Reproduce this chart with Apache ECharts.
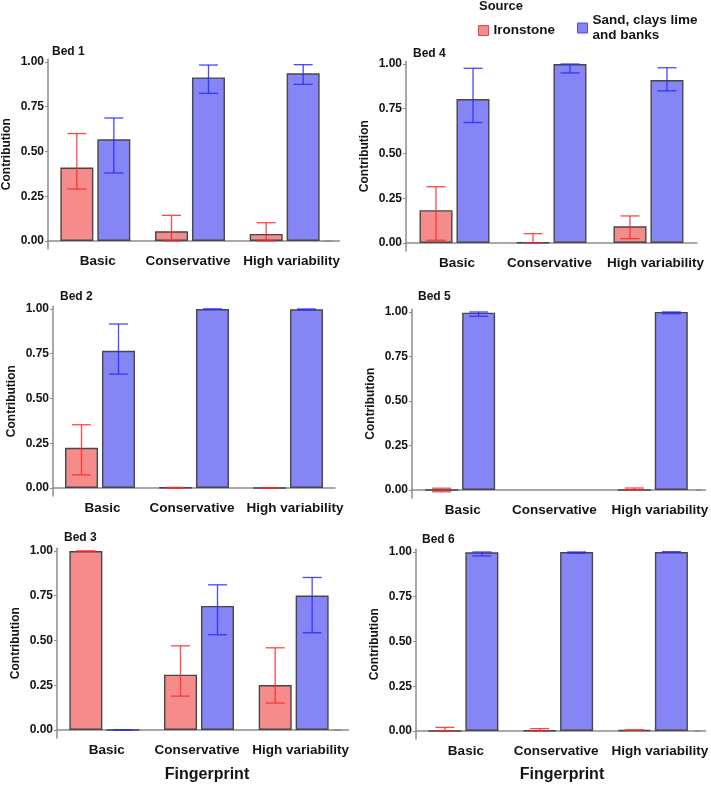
<!DOCTYPE html>
<html>
<head>
<meta charset="utf-8">
<script src="https://cdn.jsdelivr.net/npm/echarts@6/dist/echarts.min.js"></script>
<style>
  html, body { margin: 0; padding: 0; background: #ffffff; }
  #chart { width: 711px; height: 787px; }
</style>
</head>
<body>
<div id="chart"></div>
<script>
// ---------- data ----------
const categories = ['Basic', 'Conservative', 'High variability'];
const yTicks = [0, 0.25, 0.5, 0.75, 1];
const IRON = 'Ironstone';
const SAND = 'Sand, clays lime\nand banks';

const bed1Iron = [0.41, 0.054, 0.039];
const bed1IronErr = [[0.29, 0.60], [0.0, 0.143], [0.0, 0.102]];
const bed1Sand = [0.568, 0.914, 0.937];
const bed1SandErr = [[0.38, 0.687], [0.825, 0.983], [0.875, 0.985]];

const bed2Iron = [0.224, 0.002, 0.0];
const bed2IronErr = [[0.073, 0.353], [0.0, 0.003], [0.0, 0.002]];
const bed2Sand = [0.766, 1.0, 0.998];
const bed2SandErr = [[0.636, 0.916], [0.998, 1.0], [0.996, 1.0]];

const bed3Iron = [1.0, 0.309, 0.251];
const bed3IronErr = [[0.999, 1.0], [0.189, 0.47], [0.15, 0.459]];
const bed3Sand = [0.0, 0.693, 0.751];
const bed3SandErr = [[0.0, 0.001], [0.532, 0.811], [0.543, 0.852]];

const bed4Iron = [0.183, 0.002, 0.093];
const bed4IronErr = [[0.015, 0.314], [0.0, 0.052], [0.024, 0.151]];
const bed4Sand = [0.804, 1.0, 0.91];
const bed4SandErr = [[0.673, 0.976], [0.95, 1.0], [0.85, 0.979]];

const bed5Iron = [0.0, null, 0.0];
const bed5IronErr = [[-0.01, 0.01], null, [0.0, 0.011]];
const bed5Sand = [0.996, null, 1.0];
const bed5SandErr = [[0.976, 1.0], null, [0.99, 1.0]];

const bed6Iron = [0.0, 0.003, 0.005];
const bed6IronErr = [[0.0, 0.02], [0.0, 0.013], [0.005, 0.005]];
const bed6Sand = [0.998, 1.0, 1.0];
const bed6SandErr = [[0.978, 1.0], [0.993, 1.0], [1.0, 1.0]];

// ---------- layout ----------
const FONT = '"Liberation Sans", Arial, sans-serif';
const TXT = '#141414';
const AXIS = '#8c8c8c';
const ironFill = '#F68B8B', sandFill = '#8585F5';
const ironErrC = 'rgba(255,40,40,0.85)', sandErrC = 'rgba(40,40,255,0.85)';

const panels = [
  { name: 'Bed 1', iron: bed1Iron, ironErr: bed1IronErr, sand: bed1Sand, sandErr: bed1SandErr,
    left: 47, width: 285, top: 59.3, height: 189.7, ext: 8, tx: 52, ty: 46, fp: null },
  { name: 'Bed 2', iron: bed2Iron, ironErr: bed2IronErr, sand: bed2Sand, sandErr: bed2SandErr,
    left: 53, width: 282, top: 306.3, height: 189.7, ext: 0, tx: 60, ty: 291, fp: null },
  { name: 'Bed 3', iron: bed3Iron, ironErr: bed3IronErr, sand: bed3Sand, sandErr: bed3SandErr,
    left: 57, width: 284, top: 548.3, height: 189.7, ext: 8, tx: 64, ty: 532, fp: 207 },
  { name: 'Bed 4', iron: bed4Iron, ironErr: bed4IronErr, sand: bed4Sand, sandErr: bed4SandErr,
    left: 406, width: 291, top: 61.3, height: 189.7, ext: 1, tx: 413, ty: 48, fp: null },
  { name: 'Bed 5', iron: bed5Iron, ironErr: bed5IronErr, sand: bed5Sand, sandErr: bed5SandErr,
    left: 412, width: 290, top: 309.3, height: 188.7, ext: 5, tx: 418, ty: 291, fp: null },
  { name: 'Bed 6', iron: bed6Iron, ironErr: bed6IronErr, sand: bed6Sand, sandErr: bed6SandErr,
    left: 416, width: 286, top: 549.3, height: 189.7, ext: 6, tx: 422, ty: 534, fp: 562 }
];

function errRender(offset, color) {
  return function (params, api) {
    const lo = api.value(1), hi = api.value(2);
    if (isNaN(lo) || isNaN(hi)) return null;
    const pLo = api.coord([api.value(0), lo]);
    const pHi = api.coord([api.value(0), hi]);
    const cx = pLo[0] + offset;
    const hw = 9.5;
    const st = { stroke: color, lineWidth: 1.3 };
    return {
      type: 'group',
      children: [
        { type: 'line', shape: { x1: cx, y1: pHi[1], x2: cx, y2: pLo[1] }, style: st },
        { type: 'line', shape: { x1: cx - hw, y1: pHi[1], x2: cx + hw, y2: pHi[1] }, style: st },
        { type: 'line', shape: { x1: cx - hw, y1: pLo[1], x2: cx + hw, y2: pLo[1] }, style: st }
      ]
    };
  };
}

// category label styles (small horizontal nudges as in the original figure)
const catStyle = { fontSize: 13.5, fontWeight: 'bold', color: TXT, fontFamily: FONT };
const catRich = {
  c0: Object.assign({ padding: [0, 0, 0, 5] }, catStyle),
  c1: Object.assign({ padding: [0, 4, 0, 0] }, catStyle),
  c2: Object.assign({ padding: [0, 0, 0, 14] }, catStyle)
};
function catFormatter(v, idx) { return '{c' + idx + '|' + v + '}'; }

const grids = [], xAxes = [], yAxes = [], series = [], titles = [];
panels.forEach(function (p, i) {
  grids.push({ left: p.left, width: p.width, top: p.top, height: p.height, containLabel: false });
  xAxes.push({
    gridIndex: i, type: 'category', data: categories,
    axisLine: { show: true, lineStyle: { color: AXIS, width: 1.5 },
      symbol: p.ext > 1 ? ['none', 'rect'] : ['none', 'none'], symbolSize: [1.5, 2 * p.ext] },
    axisTick: { show: false },
    axisLabel: Object.assign({ interval: 0, margin: 5, formatter: catFormatter, rich: catRich }, catStyle),
    splitLine: { show: false }
  });
  yAxes.push({
    gridIndex: i, type: 'value', min: -0.045, max: 1.015,
    axisLine: { show: true, lineStyle: { color: AXIS, width: 1.5 } },
    axisTick: { show: true, length: 3, customValues: yTicks, lineStyle: { color: AXIS, width: 1 } },
    axisLabel: { customValues: yTicks, formatter: function (v) { return v.toFixed(2); },
      margin: 4, fontSize: 12, fontWeight: 'bold', color: TXT, fontFamily: FONT },
    splitLine: { show: false },
    name: 'Contribution', nameLocation: 'middle', nameRotate: 90, nameGap: 35,
    nameTextStyle: { fontSize: 12, fontWeight: 'bold', color: TXT, fontFamily: FONT }
  });
  series.push({
    type: 'bar', name: IRON, xAxisIndex: i, yAxisIndex: i, data: p.iron,
    barWidth: 33, barGap: '12%',
    itemStyle: { color: ironFill, borderColor: '#474747', borderWidth: 1.4 }
  });
  series.push({
    type: 'bar', name: SAND, xAxisIndex: i, yAxisIndex: i, data: p.sand,
    barWidth: 33, barGap: '12%',
    itemStyle: { color: sandFill, borderColor: '#474747', borderWidth: 1.4 }
  });
  series.push({
    type: 'custom', name: IRON, xAxisIndex: i, yAxisIndex: i, z: 5,
    renderItem: errRender(-18.5, ironErrC),
    data: p.ironErr.map(function (e, k) { return e ? [k, e[0], e[1]] : [k, null, null]; })
  });
  series.push({
    type: 'custom', name: SAND, xAxisIndex: i, yAxisIndex: i, z: 5,
    renderItem: errRender(18.5, sandErrC),
    data: p.sandErr.map(function (e, k) { return e ? [k, e[0], e[1]] : [k, null, null]; })
  });
  titles.push({ text: p.name, left: p.tx, top: p.ty, padding: 0,
    textStyle: { fontSize: 12, fontWeight: 'bold', color: TXT, fontFamily: FONT } });
  if (p.fp !== null) {
    titles.push({ text: 'Fingerprint', left: p.fp, top: 767, padding: 0, textAlign: 'center',
      textStyle: { fontSize: 16, fontWeight: 'bold', color: TXT, fontFamily: FONT } });
  }
});
titles.push({ text: 'Source', left: 479, top: 0, padding: 0,
  textStyle: { fontSize: 13, fontWeight: 'bold', color: TXT, fontFamily: FONT } });

const legendText = { fontSize: 13.5, fontWeight: 'bold', color: TXT, fontFamily: FONT, lineHeight: 15 };
const option = {
  animation: false,
  backgroundColor: '#ffffff',
  title: titles,
  legend: [
    { data: [{ name: IRON, itemStyle: { borderColor: '#d05050', borderWidth: 1 } }],
      left: 478, top: 23, padding: 0, itemWidth: 10, itemHeight: 10, icon: 'rect',
      selectedMode: false, textStyle: legendText },
    { data: [{ name: SAND, itemStyle: { borderColor: '#5050d0', borderWidth: 1 } }],
      left: 577, top: 13, padding: 0, itemWidth: 10, itemHeight: 10, icon: 'rect',
      selectedMode: false, textStyle: legendText }
  ],
  grid: grids,
  xAxis: xAxes,
  yAxis: yAxes,
  series: series
};

const chart = echarts.init(document.getElementById('chart'), null, { renderer: 'canvas' });
chart.setOption(option);
</script>
</body>
</html>
